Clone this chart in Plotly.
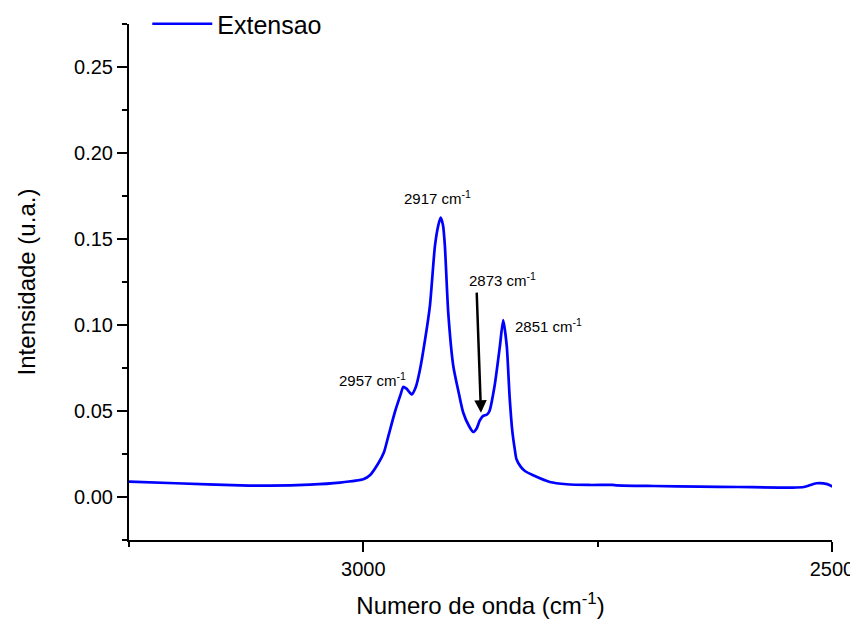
import plotly.graph_objects as go

# Spectrum
wavenumber = [3250, 3200, 3131, 3100, 3057, 3025, 3000, 2993, 2984, 2978, 2973.5, 2966, 2960, 2957.5, 2954, 2948.4,
              2944, 2939.6, 2934, 2929, 2923.6, 2920, 2917.5, 2915, 2913, 2909.4, 2904, 2898, 2893.4,
              2887, 2882.8, 2879, 2876, 2872.5, 2868, 2865.4, 2860, 2854.3, 2850.8, 2847, 2844,
              2841, 2838.5, 2836.6, 2832, 2827.6, 2818.8, 2801, 2783, 2760, 2734, 2730, 2690, 2641, 2600, 2543,
              2530, 2516.6, 2505, 2499]
intensity = [0.0089, 0.0080, 0.0068, 0.0066, 0.0072, 0.0084, 0.0103, 0.0126, 0.0196, 0.0260, 0.0350, 0.0500, 0.0600,
             0.0640, 0.0630, 0.0597, 0.0640, 0.0740, 0.0920, 0.1110, 0.1460, 0.1580, 0.1624, 0.1580, 0.1460, 0.1070,
             0.0760, 0.0600, 0.0490, 0.0410, 0.0378, 0.0400, 0.0442, 0.0470, 0.0480, 0.0500, 0.0645, 0.0878,
             0.1029, 0.0878, 0.0587, 0.0380, 0.0280, 0.0219, 0.0175, 0.0151, 0.0126, 0.0087, 0.0074, 0.0070,
             0.0070, 0.0068, 0.0064, 0.0060, 0.0058, 0.0055, 0.0058, 0.0080, 0.0075, 0.0060]

series_name = "Extensao"
x_ticks = [3000, 2500]
y_ticks = [0.00, 0.05, 0.10, 0.15, 0.20, 0.25]
y_tick_text = ["0.00", "0.05", "0.10", "0.15", "0.20", "0.25"]

peak_labels = ["2957 cm<sup>-1</sup>", "2917 cm<sup>-1</sup>", "2873 cm<sup>-1</sup>", "2851 cm<sup>-1</sup>"]
peak_label_x = [3028, 2958.7, 2889.8, 2840.7]
peak_label_y = [0.0684, 0.1742, 0.1265, 0.0998]
arrow_tip = (2874.5, 0.049)
arrow_tail = (2879.1, 0.1197)

FONT = "Liberation Sans"

fig = go.Figure()
fig.add_trace(go.Scatter(x=wavenumber, y=intensity, mode="lines", name=series_name,
                         line=dict(color="#0000FF", width=2.7, shape="spline", smoothing=0.6)))

for txt, lx, ly in zip(peak_labels, peak_label_x, peak_label_y):
    fig.add_annotation(x=lx, y=ly, text=txt, showarrow=False, xanchor="left", yanchor="middle",
                       font=dict(family=FONT, size=15, color="black"))

fig.add_annotation(x=arrow_tip[0], y=arrow_tip[1], ax=arrow_tail[0], ay=arrow_tail[1],
                   axref="x", ayref="y", xref="x", yref="y", text="", showarrow=True,
                   arrowhead=2, arrowsize=1, arrowwidth=2.5, arrowcolor="black")

# page has an 8px body margin, so the figure is 850x618 placed at (8, 8)
fig.update_layout(
    width=850, height=618,
    margin=dict(l=121, r=26, t=16, b=86, autoexpand=False),
    plot_bgcolor="white", paper_bgcolor="white",
    font=dict(family=FONT, color="black"),
    showlegend=True,
    legend=dict(x=0.026, y=1.0, xanchor="left", yanchor="middle", bgcolor="rgba(0,0,0,0)",
                font=dict(family=FONT, size=25), itemwidth=60),
    xaxis=dict(range=[3250, 2500], tickvals=x_ticks, ticktext=[str(v) for v in x_ticks],
               showgrid=False, zeroline=False, showline=True, linecolor="black", linewidth=2,
               ticks="outside", ticklen=10, tickwidth=2, tickcolor="black", automargin=False,
               tickfont=dict(family=FONT, size=20),
               minor=dict(dtick=250, tick0=2500, ticks="outside", ticklen=5, tickwidth=2, tickcolor="black", showgrid=False),
               title=dict(text="Numero de onda (cm<sup>-1</sup>)", font=dict(family=FONT, size=24), standoff=18)),
    yaxis=dict(range=[-0.025, 0.275], tickvals=y_ticks, ticktext=y_tick_text,
               showgrid=False, zeroline=False, showline=True, linecolor="black", linewidth=2,
               ticks="outside", ticklen=10, tickwidth=2, tickcolor="black", automargin=False,
               tickfont=dict(family=FONT, size=20),
               minor=dict(dtick=0.025, tick0=0, ticks="outside", ticklen=5, tickwidth=2, tickcolor="black", showgrid=False),
               title=dict(text="Intensidade (u.a.)", font=dict(family=FONT, size=24), standoff=32)),
)

fig.write_html("out.html")
